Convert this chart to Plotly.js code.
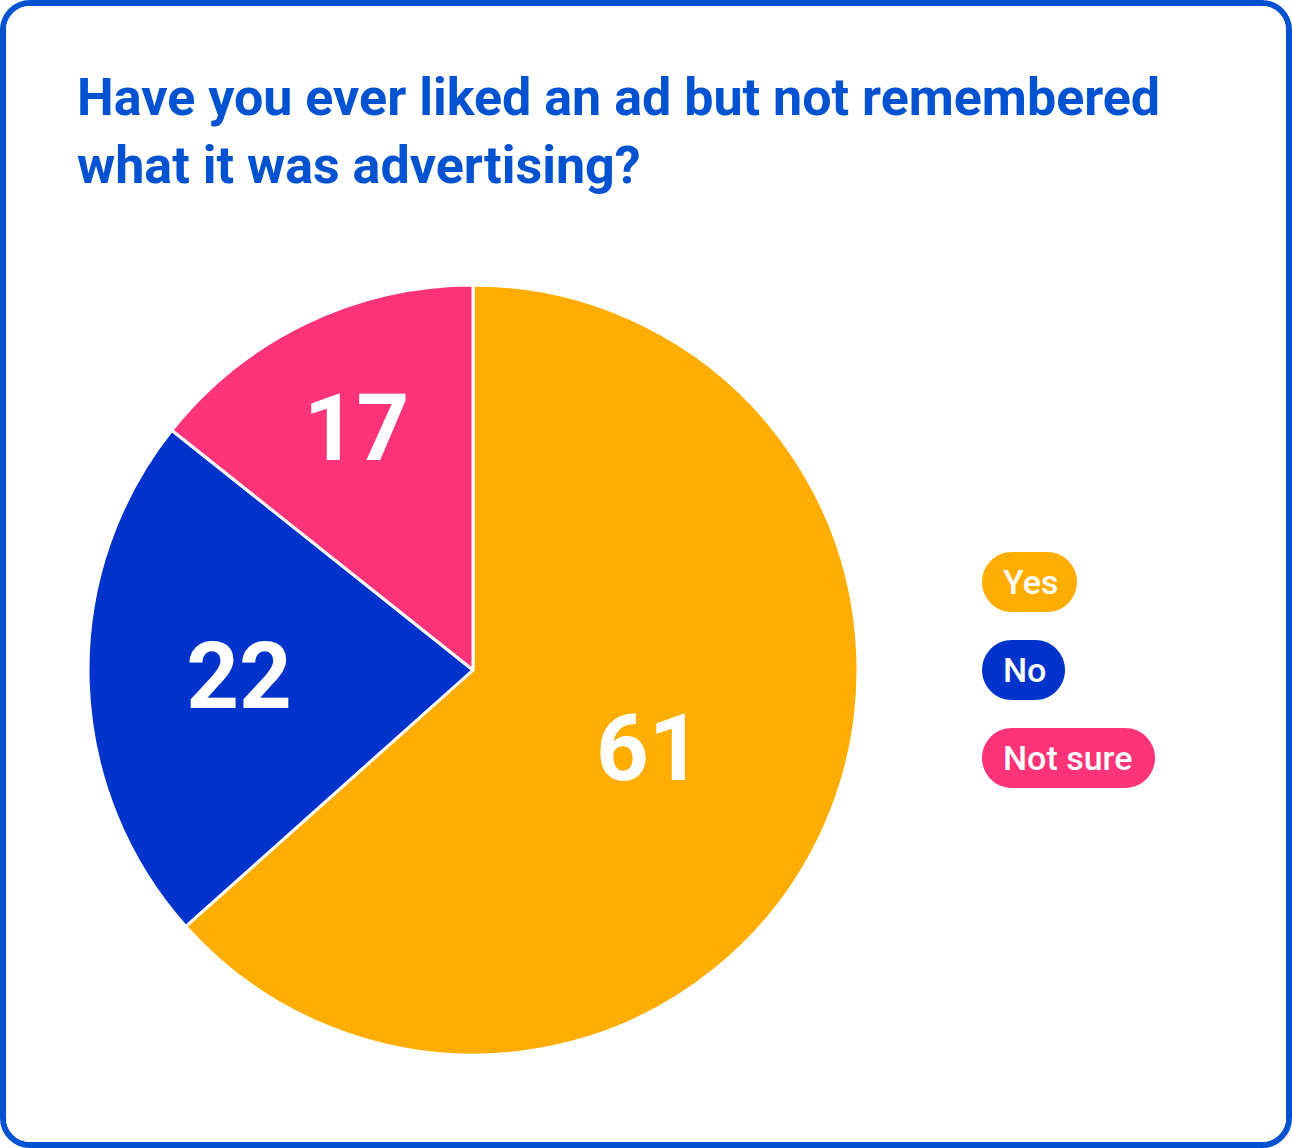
<!DOCTYPE html>
<html>
<head>
<meta charset="utf-8">
<script src="https://cdn.plot.ly/plotly-3.0.1.min.js"></script>
<style>
  html, body { margin: 0; padding: 0; background: #fff; }
  #card {
    position: absolute; left: 0; top: 0;
    width: 1292px; height: 1148px;
    box-sizing: border-box;
    border: 6px solid #0152D0;
    border-radius: 30px;
    overflow: hidden;
    background: #fff;
  }
</style>
</head>
<body>
<div id="card"><div id="gd"></div></div>
<script>
// survey answers (printed labels)
const labels = ['Yes', 'No', 'Not sure'];
const printed = [61, 22, 17];
// slice shares as drawn in the reference (wedge angles)
const shares = [63.4, 22.3, 14.3];
const colors = ['#FFAD00', '#0033CC', '#FF3377'];
const question = 'Have you ever liked an ad but not remembered<br>what it was advertising?';

const W = 1280, H = 1136;
const FONT = 'Roboto, "DejaVu Sans", sans-serif';

// pixel -> paper helpers
const px = x => x / W;
const py = y => 1 - y / H;

// rounded pill path in paper coords
function pill(x0, y0, w, h) {
  const r = h / 2, k = 0.5523 * r;
  const x1 = x0 + w;
  const y1 = y0 + h;
  const P = (x, y) => px(x) + ',' + py(y);
  return 'M' + P(x0 + r, y0) +
    ' L' + P(x1 - r, y0) +
    ' C' + P(x1 - r + k, y0) + ' ' + P(x1, y0 + r - k) + ' ' + P(x1, y0 + r) +
    ' C' + P(x1, y0 + r + k) + ' ' + P(x1 - r + k, y1) + ' ' + P(x1 - r, y1) +
    ' L' + P(x0 + r, y1) +
    ' C' + P(x0 + r - k, y1) + ' ' + P(x0, y0 + r + k) + ' ' + P(x0, y0 + r) +
    ' C' + P(x0, y0 + r - k) + ' ' + P(x0 + r - k, y0) + ' ' + P(x0 + r, y0) + ' Z';
}

const data = [{
  type: 'pie',
  labels: labels,
  values: shares,
  text: printed.map(String),
  sort: false,
  direction: 'clockwise',
  rotation: 0,
  marker: { colors: colors, line: { color: '#ffffff', width: 3 } },
  textinfo: 'text',
  textposition: 'inside',
  insidetextorientation: 'horizontal',
  textfont: { family: FONT, size: 92, color: '#ffffff', weight: 700 },
  hoverinfo: 'label+text',
  domain: { x: [px(82), px(852)], y: [py(1049), py(279)] },
  showlegend: false
}];

// legend pills
const pillX = 976, pillH = 60, pillGap = 88, pillTop = 546;
const pillW = [95, 83, 173];
const shapes = [];
const annotations = [];
labels.forEach((lab, i) => {
  const top = pillTop + i * pillGap;
  shapes.push({
    type: 'path', xref: 'paper', yref: 'paper',
    path: pill(pillX, top, pillW[i], pillH),
    fillcolor: colors[i], line: { width: 0 }, layer: 'above'
  });
  annotations.push({
    xref: 'paper', yref: 'paper',
    x: px(pillX + 19), y: py(top + pillH / 2),
    xanchor: 'left', yanchor: 'middle',
    text: lab, showarrow: false,
    font: { family: FONT, size: 34, color: '#ffffff', weight: 500 }
  });
});

const layout = {
  width: W,
  height: H,
  margin: { l: 0, r: 0, t: 0, b: 0 },
  paper_bgcolor: '#ffffff',
  title: {
    text: question,
    x: px(71), xref: 'paper', xanchor: 'left',
    y: py(109), yref: 'paper', yanchor: 'top',
    font: { family: FONT, size: 52, color: '#0152D0', weight: 700 }
  },
  shapes: shapes,
  annotations: annotations
};

Plotly.newPlot('gd', data, layout, { displayModeBar: false, staticPlot: true });
</script>
</body>
</html>
